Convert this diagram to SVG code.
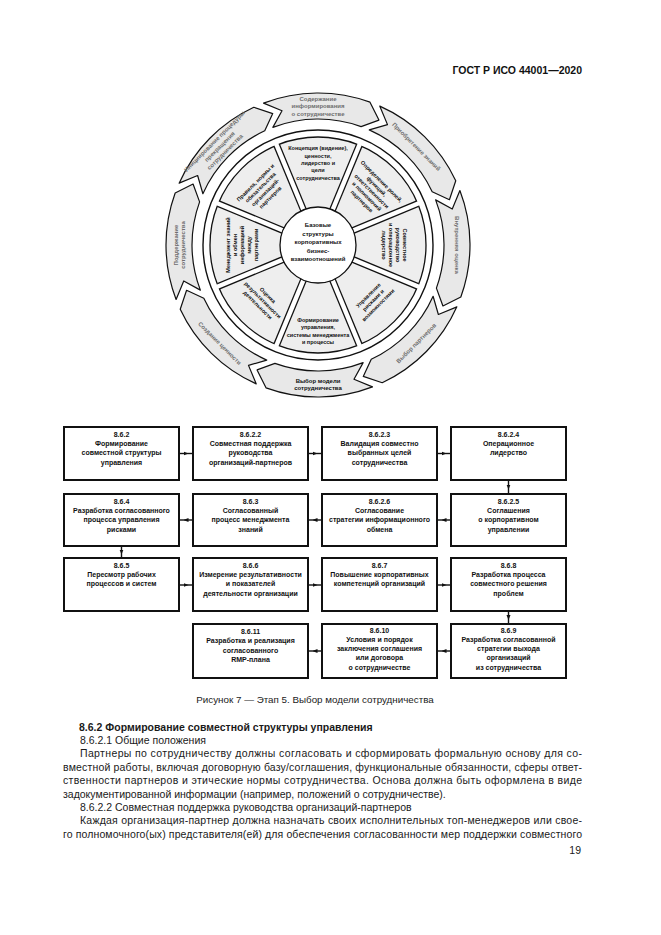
<svg xmlns="http://www.w3.org/2000/svg" width="661" height="935" viewBox="0 0 661 935">
<style>
.bx{fill:#fff;stroke:#111;stroke-width:2}
.bt{font-family:"Liberation Sans",Arial,sans-serif;font-size:7px;font-weight:bold;text-anchor:middle;fill:#111}
.cn{fill:none;stroke:#111;stroke-width:1.4;marker-mid:url(#ah)}
.ar{fill:#e8e8e8;stroke:#111;stroke-width:1.2;stroke-linejoin:round}
.at{font-family:"Liberation Sans",Arial,sans-serif;font-size:6px;font-weight:bold;fill:#6e6e6e;text-anchor:middle}
.st{font-family:"Liberation Sans",Arial,sans-serif;font-size:5.5px;font-weight:bold;fill:#111;text-anchor:middle}
.ct{font-family:"Liberation Sans",Arial,sans-serif;font-size:6px;font-weight:bold;fill:#111;text-anchor:middle}
.bd{font-family:"Liberation Sans",Arial,sans-serif;font-size:10.5px;fill:#1a1a1a}
</style>
<defs>
<marker id="ah" viewBox="0 0 10 10" refX="5" refY="5" markerWidth="5" markerHeight="5" markerUnits="userSpaceOnUse" orient="auto">
<path d="M0,1 L10,5 L0,9 Z" fill="#111"/>
</marker>
<path id="arrow" class="ar" d="M-54.47,-141.90 A152,152 0 0 1 51.99,-142.83 L60.93,-124.93 L43.09,-118.40 A126,126 0 0 0 -45.15,-117.63 L-35.98,-134.26 Z"/>
<g id="div">
<line x1="0" y1="-36" x2="0" y2="-107.6" stroke="#111" stroke-width="7"/>
<line x1="0" y1="-30" x2="0" y2="-111" stroke="#fff" stroke-width="4.4"/>
</g>
</defs>
<rect width="661" height="935" fill="#fff"/>
<text x="582" y="74" font-family="Liberation Sans, Arial, sans-serif" font-size="10.5" font-weight="bold" text-anchor="end" fill="#111">ГОСТ Р ИСО 44001—2020</text>

<g id="wheel" transform="translate(318,245)">
<g id="stages">
<g id="stage1"><use href="#arrow"/><text class="at" transform="translate(0,-139)"><tspan x="0" y="-5.5">Содержание</tspan><tspan x="0" y="2">информирования</tspan><tspan x="0" y="9.5">о сотрудничестве</tspan></text></g>
<g id="stage2" transform="rotate(45)"><use href="#arrow"/><text class="at" transform="translate(0,-139)"><tspan x="0" y="2">Приобретение знаний</tspan></text></g>
<g id="stage3" transform="rotate(90)"><use href="#arrow"/><text class="at" transform="translate(0,-139)"><tspan x="0" y="2">Внутренняя оценка</tspan></text></g>
<g id="stage4" transform="rotate(135)"><use href="#arrow"/><text class="at" transform="translate(0,-139) rotate(180)"><tspan x="0" y="2">Выбор партнеров</tspan></text></g>
<g id="stage5" transform="rotate(180)"><use href="#arrow" style="fill:#f0f0f0"/><text class="at" style="fill:#111" transform="translate(0,-139) rotate(180)"><tspan x="0" y="-1.5">Выбор модели</tspan><tspan x="0" y="5.5">сотрудничества</tspan></text></g>
<g id="stage6" transform="rotate(225)"><use href="#arrow"/><text class="at" transform="translate(0,-139) rotate(180)"><tspan x="0" y="2">Создание ценности</tspan></text></g>
<g id="stage7" transform="rotate(270)"><use href="#arrow"/><text class="at" transform="translate(0,-139)"><tspan x="0" y="-1.5">Поддержание</tspan><tspan x="0" y="5.5">сотрудничества</tspan></text></g>
<g id="stage8" transform="rotate(315)"><use href="#arrow"/><text class="at" transform="translate(0,-139)"><tspan x="0" y="-5.5">Инициирование процедуры</tspan><tspan x="0" y="2">прекращения</tspan><tspan x="0" y="9.5">сотрудничества</tspan></text></g>
</g>

<g id="disk">
<circle r="115" fill="#fff" stroke="#111" stroke-width="1.4"/>
<circle r="108" fill="#eeeeee" stroke="#111" stroke-width="1.3"/>
<use href="#div" transform="rotate(22.5)"/>
<use href="#div" transform="rotate(67.5)"/>
<use href="#div" transform="rotate(112.5)"/>
<use href="#div" transform="rotate(157.5)"/>
<use href="#div" transform="rotate(202.5)"/>
<use href="#div" transform="rotate(247.5)"/>
<use href="#div" transform="rotate(292.5)"/>
<use href="#div" transform="rotate(337.5)"/>
</g>

<g id="seg1"><text class="st" transform="translate(0,-82)"><tspan x="0" y="-12.6">Концепция (видение),</tspan><tspan x="0" y="-5.3">ценности,</tspan><tspan x="0" y="2">лидерство и</tspan><tspan x="0" y="9.3">цели</tspan><tspan x="0" y="16.6">сотрудничества</tspan></text></g>
<g id="seg2"><text class="st" transform="rotate(45) translate(0,-76)"><tspan x="0" y="-12">Определение ролей,</tspan><tspan x="0" y="-5">функций,</tspan><tspan x="0" y="2">ответственности</tspan><tspan x="0" y="9">и полномочий</tspan><tspan x="0" y="16">партнеров</tspan></text></g>
<g id="seg3"><text class="st" transform="rotate(90) translate(0,-76)"><tspan x="0" y="-8.5">Совместное</tspan><tspan x="0" y="-1.5">руководство</tspan><tspan x="0" y="5.5">и операционное</tspan><tspan x="0" y="12.5">лидерство</tspan></text></g>
<g id="seg4"><text class="st" transform="rotate(135) translate(0,-78) rotate(180)"><tspan x="0" y="-5">Управление</tspan><tspan x="0" y="2">рисками и</tspan><tspan x="0" y="9">возможностями</tspan></text></g>
<g id="seg5"><text class="st" transform="rotate(180) translate(0,-86) rotate(180)"><tspan x="0" y="-9">Формирование</tspan><tspan x="0" y="-1.7">управления,</tspan><tspan x="0" y="5.6">системы менеджмента</tspan><tspan x="0" y="12.9">и процессы</tspan></text></g>
<g id="seg6"><text class="st" transform="rotate(225) translate(0,-78) rotate(180)"><tspan x="0" y="-5">Оценка</tspan><tspan x="0" y="2">результативности</tspan><tspan x="0" y="9">деятельности</tspan></text></g>
<g id="seg7"><text class="st" transform="rotate(270) translate(0,-76)"><tspan x="0" y="-12">Менеджмент знаний</tspan><tspan x="0" y="-5">и обмен</tspan><tspan x="0" y="2">информацией</tspan><tspan x="0" y="9">между</tspan><tspan x="0" y="16">партнерами</tspan></text></g>
<g id="seg8"><text class="st" transform="rotate(315) translate(0,-78)"><tspan x="0" y="-8.5">Правила, нормы и</tspan><tspan x="0" y="-1.5">обязательства</tspan><tspan x="0" y="5.5">организаций-</tspan><tspan x="0" y="12.5">партнеров</tspan></text></g>

<g id="hub">
<circle r="38" fill="#fff" stroke="#111" stroke-width="1.3"/>
<text class="ct"><tspan x="0" y="-18">Базовые</tspan><tspan x="0" y="-9.5">структуры</tspan><tspan x="0" y="-1">корпоративных</tspan><tspan x="0" y="7.5">бизнес-</tspan><tspan x="0" y="16">взаимоотношений</tspan></text>
</g>
</g>

<g id="connectors">
<path class="cn" d="M179,453.5 L186,453.5 L193,453.5"/>
<path class="cn" d="M308,453.5 L315,453.5 L322,453.5"/>
<path class="cn" d="M437,453.5 L444,453.5 L451,453.5"/>
<path class="cn" d="M508.5,480 L508.5,487 L508.5,494"/>
<path class="cn" d="M451,520 L444,520 L437,520"/>
<path class="cn" d="M322,520 L315,520 L308,520"/>
<path class="cn" d="M193,520 L186,520 L179,520"/>
<path class="cn" d="M121.5,546 L121.5,552 L121.5,558"/>
<path class="cn" d="M179,585 L186,585 L193,585"/>
<path class="cn" d="M308,585 L315,585 L322,585"/>
<path class="cn" d="M437,585 L444,585 L451,585"/>
<path class="cn" d="M508.5,611 L508.5,617.5 L508.5,624"/>
<path class="cn" d="M451,651 L444,651 L437,651"/>
<path class="cn" d="M322,651 L315,651 L308,651"/>
</g>

<g id="n862"><rect class="bx" x="64" y="427" width="115" height="53"/><text class="bt"><tspan x="121.5" y="436.5">8.6.2</tspan><tspan x="121.5" dy="9.4">Формирование</tspan><tspan x="121.5" dy="9.4">совместной структуры</tspan><tspan x="121.5" dy="9.4">управления</tspan></text></g>
<g id="n8622"><rect class="bx" x="193" y="427" width="115" height="53"/><text class="bt"><tspan x="250.5" y="436.5">8.6.2.2</tspan><tspan x="250.5" dy="9.4">Совместная поддержка</tspan><tspan x="250.5" dy="9.4">руководства</tspan><tspan x="250.5" dy="9.4">организаций-партнеров</tspan></text></g>
<g id="n8623"><rect class="bx" x="322" y="427" width="115" height="53"/><text class="bt"><tspan x="379.5" y="436.5">8.6.2.3</tspan><tspan x="379.5" dy="9.4">Валидация совместно</tspan><tspan x="379.5" dy="9.4">выбранных целей</tspan><tspan x="379.5" dy="9.4">сотрудничества</tspan></text></g>
<g id="n8624"><rect class="bx" x="451" y="427" width="115" height="53"/><text class="bt"><tspan x="508.5" y="436.5">8.6.2.4</tspan><tspan x="508.5" dy="9.4">Операционное</tspan><tspan x="508.5" dy="9.4">лидерство</tspan></text></g>

<g id="n8625"><rect class="bx" x="451" y="494" width="115" height="52"/><text class="bt"><tspan x="508.5" y="503.5">8.6.2.5</tspan><tspan x="508.5" dy="9.4">Соглашения</tspan><tspan x="508.5" dy="9.4">о корпоративном</tspan><tspan x="508.5" dy="9.4">управлении</tspan></text></g>
<g id="n8626"><rect class="bx" x="322" y="494" width="115" height="52"/><text class="bt"><tspan x="379.5" y="503.5">8.6.2.6</tspan><tspan x="379.5" dy="9.4">Согласование</tspan><tspan x="379.5" dy="9.4">стратегии информационного</tspan><tspan x="379.5" dy="9.4">обмена</tspan></text></g>
<g id="n863"><rect class="bx" x="193" y="494" width="115" height="52"/><text class="bt"><tspan x="250.5" y="503.5">8.6.3</tspan><tspan x="250.5" dy="9.4">Согласованный</tspan><tspan x="250.5" dy="9.4">процесс менеджмента</tspan><tspan x="250.5" dy="9.4">знаний</tspan></text></g>
<g id="n864"><rect class="bx" x="64" y="494" width="115" height="52"/><text class="bt"><tspan x="121.5" y="503.5">8.6.4</tspan><tspan x="121.5" dy="9.4">Разработка согласованного</tspan><tspan x="121.5" dy="9.4">процесса управления</tspan><tspan x="121.5" dy="9.4">рисками</tspan></text></g>

<g id="n865"><rect class="bx" x="64" y="558" width="115" height="53"/><text class="bt"><tspan x="121.5" y="567.5">8.6.5</tspan><tspan x="121.5" dy="9.4">Пересмотр рабочих</tspan><tspan x="121.5" dy="9.4">процессов и систем</tspan></text></g>
<g id="n866"><rect class="bx" x="193" y="558" width="115" height="53"/><text class="bt"><tspan x="250.5" y="567.5">8.6.6</tspan><tspan x="250.5" dy="9.4">Измерение результативности</tspan><tspan x="250.5" dy="9.4">и показателей</tspan><tspan x="250.5" dy="9.4">деятельности организации</tspan></text></g>
<g id="n867"><rect class="bx" x="322" y="558" width="115" height="53"/><text class="bt"><tspan x="379.5" y="567.5">8.6.7</tspan><tspan x="379.5" dy="9.4">Повышение корпоративных</tspan><tspan x="379.5" dy="9.4">компетенций организаций</tspan></text></g>
<g id="n868"><rect class="bx" x="451" y="558" width="115" height="53"/><text class="bt"><tspan x="508.5" y="567.5">8.6.8</tspan><tspan x="508.5" dy="9.4">Разработка процесса</tspan><tspan x="508.5" dy="9.4">совместного решения</tspan><tspan x="508.5" dy="9.4">проблем</tspan></text></g>

<g id="n869"><rect class="bx" x="451" y="624" width="115" height="54"/><text class="bt"><tspan x="508.5" y="632.5">8.6.9</tspan><tspan x="508.5" dy="9.3">Разработка согласованной</tspan><tspan x="508.5" dy="9.3">стратегии выхода</tspan><tspan x="508.5" dy="9.3">организаций</tspan><tspan x="508.5" dy="9.3">из сотрудничества</tspan></text></g>
<g id="n8610"><rect class="bx" x="322" y="624" width="115" height="54"/><text class="bt"><tspan x="379.5" y="632.5">8.6.10</tspan><tspan x="379.5" dy="9.3">Условия и порядок</tspan><tspan x="379.5" dy="9.3">заключения соглашения</tspan><tspan x="379.5" dy="9.3">или договора</tspan><tspan x="379.5" dy="9.3">о сотрудничестве</tspan></text></g>
<g id="n8611"><rect class="bx" x="193" y="624" width="115" height="54"/><text class="bt"><tspan x="250.5" y="633.5">8.6.11</tspan><tspan x="250.5" dy="9.5">Разработка и реализация</tspan><tspan x="250.5" dy="9.5">согласованного</tspan><tspan x="250.5" dy="9.5">RMP-плана</tspan></text></g>

<text x="315" y="703" font-family="Liberation Sans, Arial, sans-serif" font-size="9.8" text-anchor="middle" fill="#1a1a1a">Рисунок 7 — Этап 5. Выбор модели сотрудничества</text>

<g id="body">
<text class="bd" x="79" y="730.5" font-weight="bold" font-size="10.9">8.6.2 Формирование совместной структуры управления</text>
<text class="bd" x="80" y="743.9">8.6.2.1 Общие положения</text>
<text class="bd" x="80" y="757.3" textLength="502" lengthAdjust="spacing">Партнеры по сотрудничеству должны согласовать и сформировать формальную основу для со-</text>
<text class="bd" x="63" y="770.7" textLength="519" lengthAdjust="spacing">вместной работы, включая договорную базу/соглашения, функциональные обязанности, сферы ответ-</text>
<text class="bd" x="63" y="784.1" textLength="519" lengthAdjust="spacing">ственности партнеров и этические нормы сотрудничества. Основа должна быть оформлена в виде</text>
<text class="bd" x="63" y="797.5">задокументированной информации (например, положений о сотрудничестве).</text>
<text class="bd" x="80" y="810.9">8.6.2.2 Совместная поддержка руководства организаций-партнеров</text>
<text class="bd" x="80" y="824.3" textLength="502" lengthAdjust="spacing">Каждая организация-партнер должна назначать своих исполнительных топ-менеджеров или свое-</text>
<text class="bd" x="63" y="837.7" textLength="519" lengthAdjust="spacing">го полномочного(ых) представителя(ей) для обеспечения согласованности мер поддержки совместного</text>
<text class="bd" x="581" y="854" text-anchor="end">19</text>
</g>
</svg>
